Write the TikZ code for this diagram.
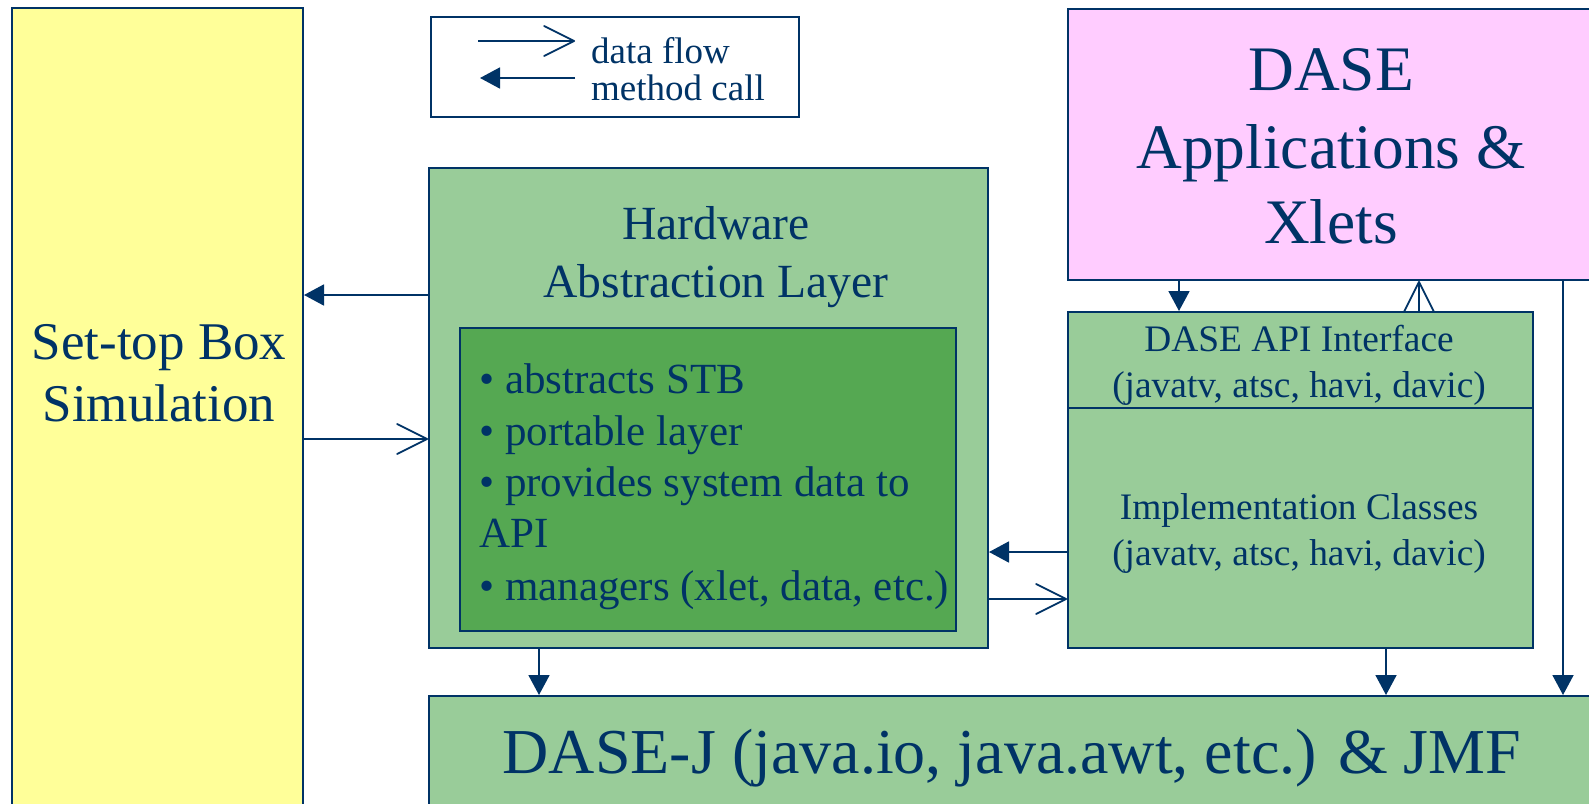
\documentclass[tikz,border=0pt]{standalone}
\usepackage{fontspec}
\setmainfont{Liberation Serif}
\usetikzlibrary{arrows.meta}
\definecolor{navy}{RGB}{0,51,102}
\definecolor{stbyellow}{RGB}{255,255,153}
\definecolor{lightgreen}{RGB}{153,204,153}
\definecolor{darkgreen}{RGB}{85,168,82}
\definecolor{dasepink}{RGB}{255,204,255}
\newcommand\fsz[2]{\fontsize{#1}{#2}\selectfont}
\tikzset{
  box/.style={draw=navy, line width=2pt, inner sep=0pt, anchor=north west},
  txt/.style={text=navy, inner sep=0pt, anchor=base},
  ltxt/.style={text=navy, inner sep=0pt, anchor=base west},
  link/.style={draw=navy, line width=1.8pt},
  dflow/.style={link, -{Straight Barb[length=30pt,width=30pt,line width=1.8pt,round]}},
  mcall/.style={link, -{Triangle[length=20pt,width=21pt]}},
}
\begin{document}
\begin{tikzpicture}[x=1pt,y=-1pt]
\useasboundingbox (0,0) rectangle (1589,803);
\clip (0,0) rectangle (1589,803);
\fill[white] (0,0) rectangle (1589,803);

% boxes
\node[box, fill=stbyellow, minimum width=291pt, minimum height=900pt] (stb) at (11,7) {};
\node[box, fill=white, minimum width=368pt, minimum height=100pt] (legend) at (430,16) {};
\node[box, fill=lightgreen, minimum width=559pt, minimum height=480pt] (hal) at (428,167) {};
\node[box, fill=darkgreen, minimum width=496pt, minimum height=303pt] (inner) at (459,327) {};
\node[box, fill=dasepink, minimum width=560pt, minimum height=271pt] (dase) at (1067,8) {};
\node[box, fill=lightgreen, minimum width=465pt, minimum height=96pt] (api) at (1067,311) {};
\node[box, fill=lightgreen, minimum width=465pt, minimum height=240pt] (impl) at (1067,407) {};
\node[box, fill=lightgreen, minimum width=1200pt, minimum height=200pt] (dasej) at (428,695) {};

% texts
\node[txt, font=\fsz{53}{62}] (stbA) at (159,359) {Set-top Box};
\node[txt, font=\fsz{53}{62}] (stbB) at (159,421) {Simulation};

\node[txt, font=\fsz{47.6}{58}] (halA) at (716,239) {Hardware};
\node[txt, font=\fsz{47.6}{58}] (halB) at (716,297) {Abstraction Layer};

\node[ltxt, font=\fsz{43}{51}] (b1) at (479,393) {• abstracts STB};
\node[ltxt, font=\fsz{43}{51}] (b2) at (479,445) {• portable layer};
\node[ltxt, font=\fsz{43}{51}] (b3) at (479,496) {• provides system data to};
\node[ltxt, font=\fsz{43}{51}] (b4) at (479,547) {API};
\node[ltxt, font=\fsz{43}{51}] (b5) at (479,600) {• managers (xlet, data, etc.)};

\node[txt, font=\fsz{63.4}{76}] (daseA) at (1331,90) {DASE};
\node[txt, font=\fsz{63.4}{76}] (daseB) at (1331,168) {Applications \&};
\node[txt, font=\fsz{63.4}{76}] (daseC) at (1331,243) {Xlets};

\node[txt, font=\fsz{37.4}{46}] (apiA) at (1299,351) {DASE API Interface};
\node[txt, font=\fsz{37.4}{46}] (apiB) at (1299,397) {(javatv, atsc, havi, davic)};

\node[txt, font=\fsz{37.4}{46}] (implA) at (1299,519) {Implementation Classes};
\node[txt, font=\fsz{37.4}{46}] (implB) at (1299,565) {(javatv, atsc, havi, davic)};

\node[txt, font=\fsz{64}{76}] (dasejT) at (1012,773) {DASE-J (java.io, java.awt, etc.) \& JMF};

% legend
\node[ltxt, font=\fsz{37}{37}] (lgA) at (591,63) {data flow};
\node[ltxt, font=\fsz{37}{37}] (lgB) at (591,100) {method call};
\coordinate (lgAs) at (478,41);
\coordinate (lgAe) at (575,41);
\coordinate (lgBs) at (575,78);
\coordinate (lgBe) at (480,78);
\draw[dflow] (lgAs) -- (lgAe);
\draw[mcall] (lgBs) -- (lgBe);

% helper coordinates
\coordinate (y295) at (0,295);
\coordinate (y439) at (0,439);
\coordinate (y552) at (0,552);
\coordinate (y599) at (0,599);
\coordinate (x539) at (539,0);
\coordinate (x1179) at (1179,0);
\coordinate (x1419) at (1419,0);
\coordinate (x1386) at (1386,0);
\coordinate (x1563) at (1563,0);

% connectors
\draw[mcall] (hal.west |- y295) -- (stb.east |- y295);
\draw[dflow] (stb.east |- y439) -- (hal.west |- y439);
\draw[mcall] (impl.west |- y552) -- (hal.east |- y552);
\draw[dflow] (hal.east |- y599) -- (impl.west |- y599);
\draw[mcall] (dase.south -| x1179) -- (api.north -| x1179);
\draw[dflow] (api.north -| x1419) -- (dase.south -| x1419);
\draw[mcall] (dase.south -| x1563) -- (dasej.north -| x1563);
\draw[mcall] (hal.south -| x539) -- (dasej.north -| x539);
\draw[mcall] (impl.south -| x1386) -- (dasej.north -| x1386);
\end{tikzpicture}
\end{document}
